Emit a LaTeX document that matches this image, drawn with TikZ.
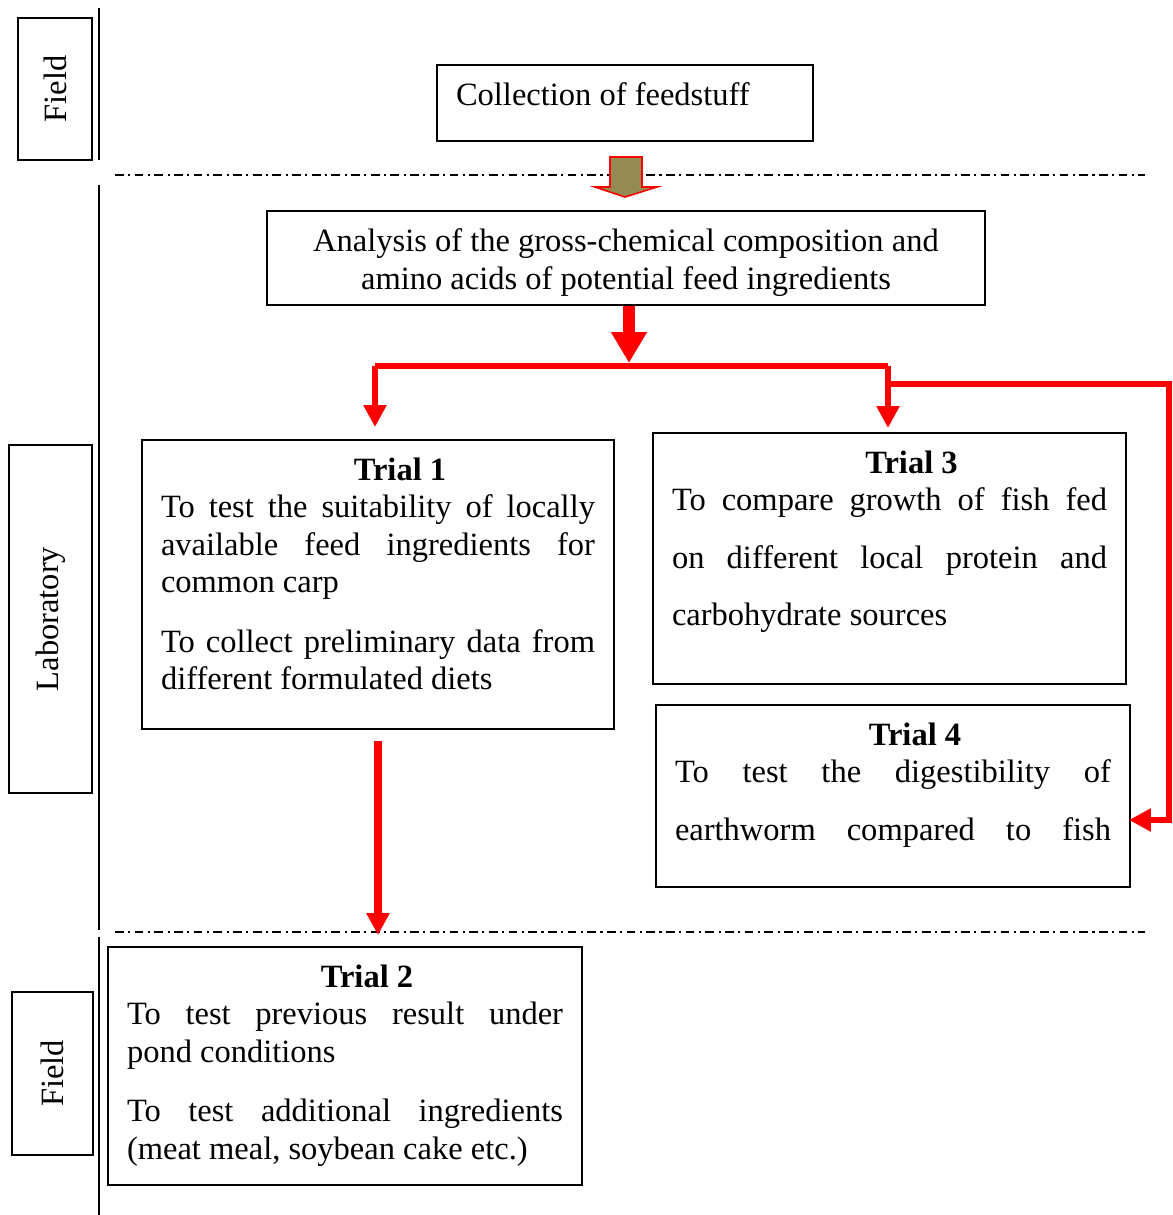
\documentclass[tikz,border=0pt]{standalone}
\usepackage{fontspec}
\setmainfont{Liberation Serif}
\usetikzlibrary{arrows.meta,calc}

\definecolor{olivefill}{RGB}{148,138,84}
\newlength\px \setlength\px{0.02cm}
% fixed size text area, content at the top
\newcommand{\inbox}[3]{\parbox[c][#1\px][t]{#2\px}{#3}}
\newcommand{\jl}[1]{\makebox[\linewidth][s]{#1}}
\newcommand{\ttl}[1]{\makebox[\linewidth]{\hspace*{25pt}\textbf{#1}}}

\begin{document}
\begin{tikzpicture}[x=0.02cm, y=-0.02cm,
    txtbox/.style={draw, line width=1.1pt, inner xsep=19\px, inner ysep=18\px, font=\fontsize{18.5}{21.3}\selectfont},
    sidebox/.style={draw, line width=0.85pt, rotate=90, inner sep=0pt, font=\fontsize{18.5}{21.3}\selectfont},
    zone/.style={line width=1.1pt},
    zonesep/.style={line width=0.9pt, dash pattern=on 5pt off 2.5pt on 1.2pt off 2.5pt},
    redline/.style={draw=red, line width=3.2pt},
    redarrow/.style={redline, -{Triangle[width=12.5pt,length=12.5pt]}},
    fatarrow/.style={draw=red, line width=6.8pt, -{Triangle[width=19.3pt,length=17.6pt]}}
]
    \useasboundingbox (0,0) rectangle (1173,1215);

    % zones on the left
    \node [sidebox, minimum width=142\px, minimum height=74\px] (field1) at (55,89) {Field};
    \node [sidebox, minimum width=348\px, minimum height=83\px] (lab) at (50.5,619) {Laboratory};
    \node [sidebox, minimum width=163\px, minimum height=81\px] (field2) at (52.5,1073.5) {Field};

    \draw [zone] (99,8) -- (99,160);
    \draw [zone] (99,185) -- (99,930);
    \draw [zone] (99,937) -- (99,1215);
    \draw [zonesep] (115,175) -- (1145,175);
    \draw [zonesep] (115,932) -- (1145,932);

    % boxes
    \node [txtbox] (collect) at (625,103) {\inbox{40}{338}{Collection of feedstuff}};
    \node [txtbox] (analysis) at (626,258) {\inbox{58}{680}{\centering
        Analysis of the gross-chemical composition and\\
        amino acids of potential feed ingredients}};
    \node [txtbox] (t1) at (378,584.5) {\inbox{253}{434}{%
        \ttl{Trial 1}\\
        \jl{To test the suitability of locally}\\
        \jl{available feed ingredients for}\\
        common carp\\[12.5pt]
        \jl{To collect preliminary data from}\\
        different formulated diets}};
    \node [txtbox] (t3) at (889.5,558.5) {\inbox{215}{435}{%
        \ttl{Trial 3}\\
        \jl{To compare growth of fish fed}\\[11.2pt]
        \jl{on different local protein and}\\[11.2pt]
        carbohydrate sources}};
    \node [txtbox] (t4) at (893,796) {\inbox{146}{436}{%
        \ttl{Trial 4}\\
        \jl{To test the digestibility of}\\[11.2pt]
        \jl{earthworm compared to fish}}};
    \node [txtbox] (t2) at (345,1066) {\inbox{202}{436}{%
        \ttl{Trial 2}\\
        \jl{To test previous result under}\\
        pond conditions\\[12.5pt]
        \jl{To test additional ingredients}\\
        (meat meal, soybean cake etc.)}};

    % block arrow field -> laboratory
    \draw [red, line width=0.9pt, fill=olivefill] (610,157) -- (642,157) -- (642,187) -- (657,187)
        -- (625,197) -- (595,187) -- (610,187) -- cycle;

    % red connectors
    \coordinate (split) at (629,363);
    \coordinate (lft) at (375,366);
    \coordinate (rgt) at (888,366);
    \coordinate (rb) at (888,384);
    \coordinate (corner) at (1169,384);
    \coordinate (t4in) at ($(t4.east)+(-2,24)$);

    \draw [fatarrow] (split |- analysis.south) -- (split);
    \draw [redline] (lft) -- (rgt);
    \draw [redarrow, shorten >=12\px] (lft) -- (lft |- t1.north);
    \draw [redarrow, shorten >=4\px] (rgt) -- (rgt |- t3.north);
    \draw [redarrow] (rb) -- (corner) |- (t4in);
    \draw [draw=red, line width=4pt, -{Triangle[width=12.5pt,length=12.5pt]}, shorten <=11\px, shorten >=11\px]
        (t1.south) -- (t1.south |- t2.north);
\end{tikzpicture}
\end{document}
